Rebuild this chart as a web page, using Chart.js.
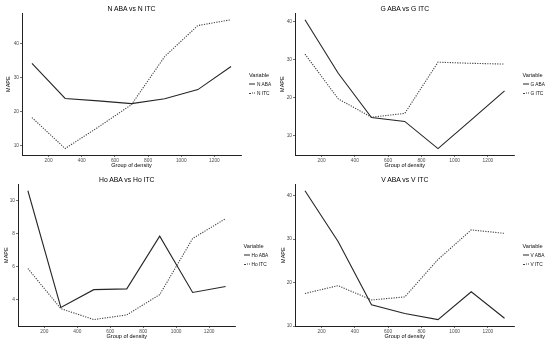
<!DOCTYPE html>
<html>
<head>
<meta charset="utf-8">
<script src="https://cdn.jsdelivr.net/npm/chart.js@4.4.1/dist/chart.umd.min.js"></script>
<style>
  body { margin: 0; background: #fff; }
  #wrap { position: relative; width: 550px; height: 343px; overflow: hidden;
          font-family: "Liberation Sans", Arial, sans-serif; }
  .panel { position: absolute; width: 275px; }
  .panel canvas { position: absolute; left: 0; top: 0; }
  .ttl { position: absolute; font-size: 6.8px; color: #000; white-space: nowrap;
         transform: translate(-50%, -50%); }
  .lg { position: absolute; white-space: nowrap; transform: translateY(-50%); color: #111; }
  .lg.head { font-size: 5.6px; }
  .lg.item { font-size: 4.8px; display: flex; align-items: center; }
  .lg .key { display: inline-block; width: 6px; height: 0; margin-right: 2px; }
</style>
</head>
<body>
<div id="wrap"></div>
<script>
// x positions (group of density) and axis ticks
const density = [100, 300, 500, 700, 900, 1100, 1300];
const xTicks = [200, 400, 600, 800, 1000, 1200];

// MAPE values
const nABA = [34.1, 23.8, 23.1, 22.3, 23.7, 26.4, 33.2];
const nITC = [18.2, 9.1, 15.4, 22.0, 36.1, 45.2, 46.9];
const gABA = [40.4, 26.4, 14.8, 13.8, 6.7, 14.2, 21.8];
const gITC = [31.4, 19.7, 14.9, 15.9, 29.3, 29.0, 28.8];
const hoABA = [10.59, 3.52, 4.6, 4.65, 7.84, 4.43, 4.79];
const hoITC = [5.88, 3.45, 2.79, 3.07, 4.3, 7.7, 8.9];
const vABA = [41.1, 29.4, 14.9, 12.9, 11.5, 17.9, 11.8];
const vITC = [17.5, 19.3, 16.0, 16.7, 25.3, 32.1, 31.3];

const yTicksBig = [10, 20, 30, 40];
const yTicksHo = [4, 6, 8, 10];

const panels = [
  { title: "N ABA vs N ITC", names: ["N ABA", "N ITC"], series: [nABA, nITC], yTicks: yTicksBig,
    left: 0, top: 0, h: 171, yWidth: 22, padRight: 34, yTitlePad: 5.2 },
  { title: "G ABA vs G ITC", names: ["G ABA", "G ITC"], series: [gABA, gITC], yTicks: yTicksBig,
    left: 275, top: 0, h: 171, yWidth: 20, padRight: 35.5, yTitlePad: 4.5 },
  { title: "Ho ABA vs Ho ITC", names: ["Ho ABA", "Ho ITC"], series: [hoABA, hoITC], yTicks: yTicksHo,
    left: 0, top: 171, h: 172, yWidth: 18, padRight: 39.5, yTitlePad: 2.9 },
  { title: "V ABA vs V ITC", names: ["V ABA", "V ITC"], series: [vABA, vITC], yTicks: yTicksBig,
    left: 275, top: 171, h: 172, yWidth: 20, padRight: 35.5, yTitlePad: 4.7 }
];

const lineColors = ["#262626", "#404040"];
const lineDashes = [[], [1.2, 1.3]];
const fontFamily = "'Liberation Sans', Arial, sans-serif";

// ggplot style 5% expansion of the data range
function expanded(arrs) {
  const all = [].concat(...arrs);
  const lo = Math.min(...all), hi = Math.max(...all);
  const pad = (hi - lo) * 0.05;
  return [lo - pad, hi + pad];
}

const wrap = document.getElementById("wrap");

panels.forEach(p => {
  const div = document.createElement("div");
  div.className = "panel";
  div.style.left = p.left + "px";
  div.style.top = p.top + "px";
  div.style.height = p.h + "px";
  wrap.appendChild(div);

  const canvas = document.createElement("canvas");
  canvas.width = 275;
  canvas.height = p.h;
  div.appendChild(canvas);

  const [yMin, yMax] = expanded(p.series);

  const chart = new Chart(canvas.getContext("2d"), {
    type: "line",
    data: {
      datasets: p.series.map((vals, i) => ({
        label: p.names[i],
        data: density.map((d, j) => ({ x: d, y: vals[j] })),
        borderColor: lineColors[i],
        borderWidth: 1.1,
        borderDash: lineDashes[i],
        pointRadius: 0,
        tension: 0,
        fill: false
      }))
    },
    options: {
      responsive: false,
      animation: false,
      devicePixelRatio: 1,
      layout: { padding: { top: 13.3, right: p.padRight, left: 0, bottom: 0 } },
      plugins: { legend: { display: false }, title: { display: false }, tooltip: { enabled: false } },
      scales: {
        x: {
          type: "linear", min: 40, max: 1360, bounds: "data",
          afterBuildTicks: s => { s.ticks = xTicks.map(v => ({ value: v })); },
          afterFit: s => { s.height = p.h - 155; },
          ticks: { autoSkip: false, maxRotation: 0, padding: 0.3, color: "#4d4d4d",
                   font: { size: 4.8, family: fontFamily }, callback: v => String(v) },
          grid: { drawOnChartArea: false, drawTicks: true, tickLength: 2, color: "#333", lineWidth: 0.7 },
          border: { display: true, color: "#222", width: 1 },
          title: { display: true, text: "Group of density", color: "#000",
                   font: { size: 5.5, family: fontFamily }, padding: { top: 0, bottom: p.h === 171 ? 2.7 : 3 } }
        },
        y: {
          type: "linear", min: yMin, max: yMax, bounds: "data",
          afterBuildTicks: s => { s.ticks = p.yTicks.map(v => ({ value: v })); },
          afterFit: s => { s.width = p.yWidth; },
          ticks: { autoSkip: false, padding: 1, color: "#4d4d4d",
                   font: { size: 4.8, family: fontFamily }, callback: v => String(v) },
          grid: { drawOnChartArea: false, drawTicks: true, tickLength: 2, color: "#333", lineWidth: 0.7 },
          border: { display: true, color: "#222", width: 1 },
          title: { display: true, text: "MAPE", color: "#000",
                   font: { size: 5.5, family: fontFamily }, padding: { top: p.yTitlePad, bottom: 0 } }
        }
      }
    }
  });

  // plot title and legend, placed from the chart area
  const ca = chart.chartArea;
  const t = document.createElement("div");
  t.className = "ttl";
  t.textContent = p.title;
  t.style.left = ((ca.left + ca.right) / 2) + "px";
  t.style.top = "7.5px";
  div.appendChild(t);

  const lx = ca.right + 8;
  const cy = (ca.top + ca.bottom) / 2;
  const head = document.createElement("div");
  head.className = "lg head";
  head.textContent = "Variable";
  head.style.left = lx + "px";
  head.style.top = (cy - 9.5) + "px";
  div.appendChild(head);

  p.names.forEach((name, i) => {
    const item = document.createElement("div");
    item.className = "lg item";
    item.style.left = lx + "px";
    item.style.top = (cy + i * 9) + "px";
    const key = document.createElement("span");
    key.className = "key";
    key.style.borderTop = i === 0 ? "1px solid #262626" : "1px dotted #404040";
    item.appendChild(key);
    item.appendChild(document.createTextNode(name));
    div.appendChild(item);
  });
});
</script>
</body>
</html>
